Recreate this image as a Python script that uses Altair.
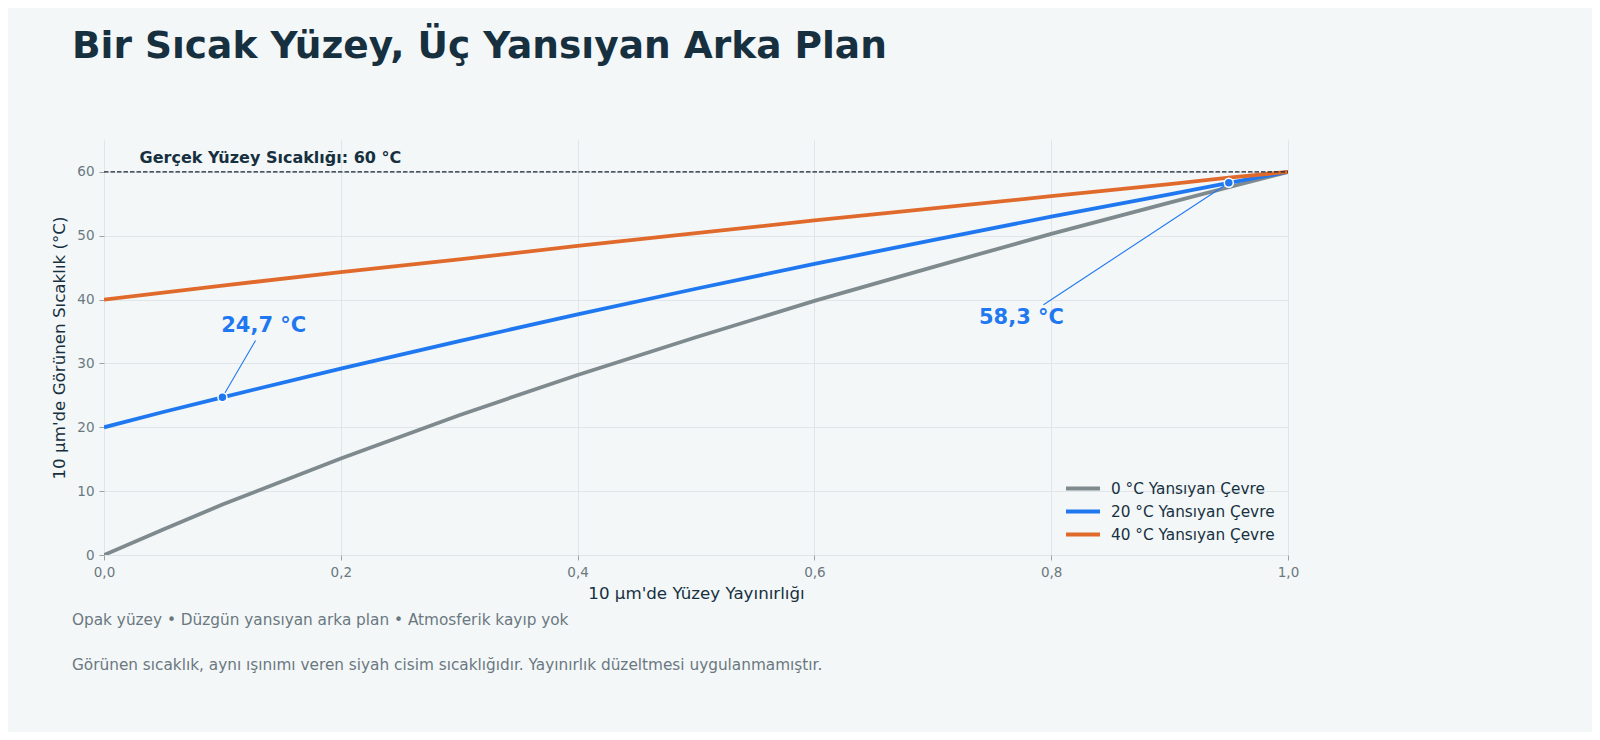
import altair as alt
import pandas as pd

# ---------------- data ----------------
emissivity = [0.0, 0.05, 0.1, 0.2, 0.3, 0.4, 0.5, 0.6, 0.7, 0.8, 0.9, 0.95, 1.0]
temp_bg0 = [0.0, 4.0, 7.9, 15.1, 21.9, 28.2, 34.1, 39.8, 45.1, 50.3, 55.2, 57.6, 60.0]
temp_bg20 = [20.0, 22.4, 24.7, 29.2, 33.5, 37.7, 41.7, 45.6, 49.3, 53.0, 56.5, 58.3, 60.0]
temp_bg40 = [40.0, 41.1, 42.2, 44.3, 46.3, 48.4, 50.4, 52.4, 54.3, 56.2, 58.1, 59.1, 60.0]
series_names = ["0 °C Yansıyan Çevre", "20 °C Yansıyan Çevre", "40 °C Yansıyan Çevre"]
series_colors = ["#7f8a8e", "#1f78f0", "#e06a2c"]

true_temp = 60
true_label = "Gerçek Yüzey Sıcaklığı: 60 °C"

ann_x = [0.1, 0.95]
ann_y = [24.7, 58.3]
ann_label = ["24,7 °C", "58,3 °C"]

title_text = "Bir Sıcak Yüzey, Üç Yansıyan Arka Plan"
x_title = "10 µm'de Yüzey Yayınırlığı"
y_title = "10 µm'de Görünen Sıcaklık (°C)"
footer_1 = "Opak yüzey • Düzgün yansıyan arka plan • Atmosferik kayıp yok"
footer_2 = "Görünen sıcaklık, aynı ışınımı veren siyah cisim sıcaklığıdır. Yayınırlık düzeltmesi uygulanmamıştır."

x_ticks = [0.0, 0.2, 0.4, 0.6, 0.8, 1.0]
y_ticks = [0, 10, 20, 30, 40, 50, 60]

# ---------------- tables ----------------
rows = []
for name, vals in zip(series_names, [temp_bg0, temp_bg20, temp_bg40]):
    for e, t in zip(emissivity, vals):
        rows.append({"e": e, "t": t, "series": name})
df = pd.DataFrame(rows)

# label anchor placement (layout, in data units)
ann_df = pd.DataFrame({
    "x": ann_x, "y": ann_y, "label": ann_label,
    "lx": [0.099, 0.739], "ly": [35.0, 36.2],
    "cx": [0.128, 0.7935], "cy": [33.6, 39.2],
})
ref_df = pd.DataFrame({"x": [0.0], "x2": [1.0], "y": [true_temp], "tx": [0.03], "ty": [61.4], "label": [true_label]})

W, H = 1184, 415
BG = "#f3f7f8"
DARK = "#17303f"
GRAY = "#6b7780"
FONT = "DejaVu Sans"

xs = alt.Scale(domain=[0, 1], nice=False, zero=False)
ys = alt.Scale(domain=[0, 65], nice=False, zero=False)

x_axis = alt.Axis(values=x_ticks, labelExpr="replace(format(datum.value, '.1f'), '.', ',')",
                  grid=True, gridColor="#dfe5e8", gridWidth=1, domain=False, labelFlush=False,
                  tickSize=5, tickColor="#9aa3a8", labelFontSize=13.5, labelColor=GRAY, labelPadding=5,
                  titleFontSize=16.7, titleColor=DARK, titleFontWeight="normal", titlePadding=7,
                  labelFont=FONT, titleFont=FONT)
y_axis = alt.Axis(values=y_ticks, grid=True, gridColor="#dfe5e8", gridWidth=1, domain=False, labelFlush=False,
                  tickSize=5, tickColor="#9aa3a8", labelFontSize=13.5, labelColor=GRAY, labelPadding=5,
                  titleFontSize=16.7, titleColor=DARK, titleFontWeight="normal", titlePadding=8,
                  labelFont=FONT, titleFont=FONT)

lines = alt.Chart(df).mark_line(strokeWidth=3.8, clip=True).encode(
    x=alt.X("e:Q", scale=xs, axis=x_axis, title=x_title),
    y=alt.Y("t:Q", scale=ys, axis=y_axis, title=y_title),
    color=alt.Color("series:N", scale=alt.Scale(domain=series_names, range=series_colors),
                    legend=alt.Legend(title=None, orient="none", legendX=960, legendY=338,
                                      symbolType="M-1,0H3", symbolSize=289, symbolStrokeWidth=4,
                                      labelFontSize=15.3, labelColor=DARK, labelFont=FONT,
                                      labelLimit=400, labelOffset=26, rowPadding=4, padding=0)),
)

ref_rule = alt.Chart(ref_df).mark_rule(color="#1a2530", strokeWidth=1.4, strokeDash=[4.5, 2]).encode(
    x=alt.X("x:Q", scale=xs), x2="x2:Q", y=alt.Y("y:Q", scale=ys))
ref_text = alt.Chart(ref_df).mark_text(align="left", baseline="alphabetic", font=FONT, fontSize=16,
                                       fontWeight="bold", color=DARK).encode(
    x=alt.X("tx:Q", scale=xs), y=alt.Y("ty:Q", scale=ys), text="label:N")

conn = alt.Chart(ann_df).mark_rule(color="#1f78f0", strokeWidth=1.1).encode(
    x=alt.X("x:Q", scale=xs), y=alt.Y("y:Q", scale=ys), x2="cx:Q", y2="cy:Q")
pts = alt.Chart(ann_df).mark_point(filled=True, shape="circle", size=81, color="#1f78f0", opacity=1,
                                   stroke="white", strokeWidth=1.5).encode(
    x=alt.X("x:Q", scale=xs), y=alt.Y("y:Q", scale=ys))
ann_text = alt.Chart(ann_df).mark_text(align="left", baseline="alphabetic", font=FONT, fontSize=21,
                                       fontWeight="bold", color="#1f78f0").encode(
    x=alt.X("lx:Q", scale=xs), y=alt.Y("ly:Q", scale=ys), text="label:N")

foot1 = alt.Chart(pd.DataFrame({"t": [footer_1]})).mark_text(
    align="left", baseline="middle", font=FONT, fontSize=15.3, color=GRAY).encode(
    x=alt.value(-32), y=alt.value(480), text="t:N")
foot2 = alt.Chart(pd.DataFrame({"t": [footer_2]})).mark_text(
    align="left", baseline="middle", font=FONT, fontSize=15.3, color=GRAY).encode(
    x=alt.value(-32), y=alt.value(525), text="t:N")

chart = alt.layer(lines, ref_rule, ref_text, conn, pts, ann_text, foot1, foot2).properties(
    width=W, height=H,
    title=alt.TitleParams(title_text, anchor="start", frame="group", dx=-32, offset=75,
                          fontSize=37.5, font=FONT, fontWeight="bold", color=DARK),
    autosize=alt.AutoSizeParams(type="none"),
    padding={"left": 96, "top": 132, "right": 304, "bottom": 177},
    background=BG,
).configure_view(stroke=None)

chart.save("out.html", embed_options={"renderer": "svg", "actions": False})
